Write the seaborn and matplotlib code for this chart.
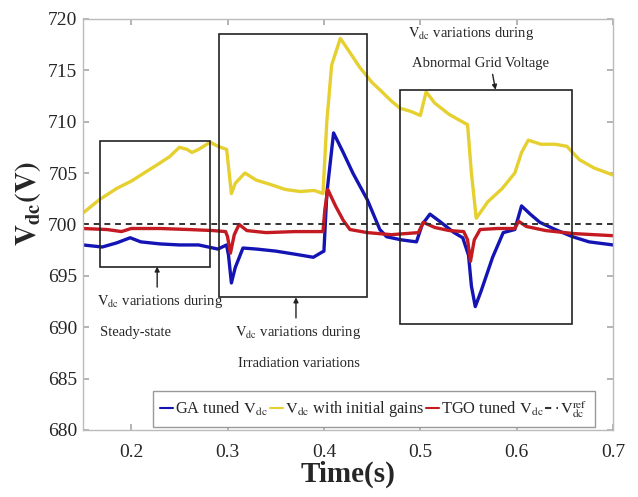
import matplotlib
matplotlib.use('Agg')
import matplotlib.pyplot as plt
import matplotlib.patches as mpatches
import seaborn as sns

# GA tuned Vdc (blue)
t_ga = [0.150, 0.170, 0.185, 0.199, 0.210, 0.230, 0.250, 0.270, 0.290, 0.299,
        0.301, 0.304, 0.308, 0.316, 0.330, 0.350, 0.370, 0.389, 0.398, 0.400,
        0.403, 0.410, 0.420, 0.430, 0.445, 0.458, 0.465, 0.480, 0.496, 0.502,
        0.510, 0.520, 0.535, 0.544, 0.550, 0.553, 0.557, 0.563, 0.575, 0.586,
        0.598, 0.605, 0.614, 0.624, 0.640, 0.658, 0.675, 0.700]
v_ga = [698.0, 697.8, 698.2, 698.7, 698.3, 698.1, 698.0, 698.0, 697.6, 698.0,
        697.0, 694.3, 695.8, 697.7, 697.6, 697.4, 697.1, 696.8, 697.3, 697.4,
        703.0, 708.9, 707.0, 705.0, 702.4, 699.5, 698.8, 698.5, 698.3, 700.0,
        701.0, 700.3, 699.2, 698.7, 697.0, 694.0, 692.0, 693.5, 696.8, 699.2,
        699.5, 701.8, 701.0, 700.2, 699.5, 698.8, 698.3, 698.0]

# Vdc with initial gains (yellow)
t_init = [0.150, 0.167, 0.185, 0.200, 0.210, 0.227, 0.240, 0.250, 0.258, 0.263,
          0.270, 0.282, 0.290, 0.299, 0.300, 0.304, 0.308, 0.318, 0.330, 0.344,
          0.360, 0.375, 0.390, 0.399, 0.403, 0.408, 0.417, 0.425, 0.437, 0.450,
          0.458, 0.470, 0.479, 0.490, 0.500, 0.506, 0.515, 0.530, 0.549, 0.553,
          0.558, 0.570, 0.585, 0.598, 0.605, 0.612, 0.625, 0.640, 0.652, 0.665,
          0.680, 0.700]
v_init = [701.1, 702.4, 703.5, 704.2, 704.8, 705.8, 706.6, 707.5, 707.3, 707.0,
          707.3, 708.0, 707.6, 707.3, 706.5, 703.0, 704.0, 705.0, 704.3, 703.9,
          703.4, 703.2, 703.3, 703.0, 710.0, 715.5, 718.1, 717.0, 715.3, 713.8,
          713.1, 712.0, 711.3, 711.0, 710.6, 712.9, 711.8, 710.7, 709.7, 705.0,
          700.6, 702.2, 703.5, 705.0, 707.0, 708.2, 707.8, 707.8, 707.6, 706.3,
          705.5, 704.8]

# TGO tuned Vdc (red)
t_tgo = [0.150, 0.175, 0.190, 0.200, 0.230, 0.260, 0.285, 0.298, 0.300, 0.303,
         0.307, 0.312, 0.320, 0.340, 0.370, 0.399, 0.401, 0.404, 0.412, 0.420,
         0.427, 0.445, 0.470, 0.498, 0.503, 0.515, 0.530, 0.545, 0.549, 0.552,
         0.556, 0.562, 0.580, 0.598, 0.602, 0.610, 0.630, 0.660, 0.700]
v_tgo = [699.6, 699.5, 699.3, 699.6, 699.6, 699.5, 699.4, 699.3, 698.8, 697.2,
         699.0, 700.0, 699.4, 699.2, 699.3, 699.3, 701.5, 703.4, 701.8, 700.4,
         699.5, 699.2, 699.0, 699.2, 700.2, 699.7, 699.4, 699.3, 698.5, 696.4,
         698.5, 699.5, 699.6, 699.6, 700.3, 699.8, 699.4, 699.1, 698.9]

v_ref = 700
x_ticks = [0.2, 0.3, 0.4, 0.5, 0.6, 0.7]
y_ticks = [680, 685, 690, 695, 700, 705, 710, 715, 720]

# highlighted regions: (t0, t1, v0, v1)
boxes = [(0.1676, 0.282, 695.9, 708.1),
         (0.291, 0.445, 692.9, 718.5),
         (0.479, 0.657, 690.3, 713.1)]

sns.set_theme(style='white')
plt.rcParams['font.family'] = ['Liberation Serif', 'DejaVu Serif']
plt.rcParams['mathtext.fontset'] = 'stix'

fig = plt.figure(figsize=(6.38, 4.97), dpi=100)
ax = fig.add_axes([0.130, 0.135, 0.831, 0.827])

sns.lineplot(x=t_ga, y=v_ga, color='#1414b4', lw=2.4, ax=ax,
             label=r'GA tuned $\mathrm{V_{dc}}$')
sns.lineplot(x=t_init, y=v_init, color='#e6d030', lw=2.4, ax=ax,
             label=r'$\mathrm{V_{dc}}$ with initial gains')
sns.lineplot(x=t_tgo, y=v_tgo, color='#c41a22', lw=2.4, ax=ax,
             label=r'TGO tuned $\mathrm{V_{dc}}$')
ax.axhline(v_ref, color='#333333', ls=(0, (3, 2.5)), lw=1.4,
           label=r'$\mathrm{V_{dc}^{ref}}$')

for t0, t1, v0, v1 in boxes:
    ax.add_patch(mpatches.Rectangle((t0, v0), t1 - t0, v1 - v0, fill=False,
                                    ec='#222222', lw=1.2, zorder=5))

fs = 10.5
vdc = r'$\mathrm{V_{dc}}$'
ax.text(0.1645, 692.5, vdc + ' variations during', fontsize=fs, ha='left', va='center')
ax.text(0.1676, 689.5, 'Steady-state', fontsize=fs, ha='left', va='center')
ax.text(0.3077, 689.5, vdc + ' variations during', fontsize=fs, ha='left', va='center')
ax.text(0.311, 686.5, 'Irradiation variations', fontsize=fs, ha='left', va='center')
ax.text(0.4877, 718.6, vdc + ' variations during', fontsize=fs, ha='left', va='center')
ax.text(0.4918, 715.7, 'Abnormal Grid Voltage', fontsize=fs, ha='left', va='center')

arrow = dict(arrowstyle='-|>', color='#222222', lw=1.0, mutation_scale=7,
             shrinkA=0, shrinkB=0)
ax.annotate('', xy=(0.227, 695.9), xytext=(0.227, 693.9), arrowprops=arrow)
ax.annotate('', xy=(0.371, 692.9), xytext=(0.371, 690.9), arrowprops=arrow)
ax.annotate('', xy=(0.578, 713.1), xytext=(0.575, 714.6), arrowprops=arrow)

ax.set_xlim(0.15, 0.7)
ax.set_ylim(680, 720)
ax.set_xticks(x_ticks)
ax.set_yticks(y_ticks)
ax.set_xticklabels([f'{x:.1f}' for x in x_ticks])
ax.tick_params(direction='in', length=4, color='#aaaaaa', labelsize=14,
               top=True, right=True, bottom=True, left=True)
ax.tick_params(axis='x', pad=10)
ax.tick_params(axis='y', pad=4)
for s in ax.spines.values():
    s.set_color('#bbbbbb')
    s.set_linewidth(1.0)

ax.set_xlabel('Time(s)', fontsize=21, fontweight='bold', labelpad=0)
ax.set_ylabel(r'$\mathbf{V_{dc}(V)}$', fontsize=21)
ax.yaxis.set_label_coords(-0.075, 0.55)

leg = ax.legend(loc='lower left', bbox_to_anchor=(0.132, 0.007), ncol=4,
                fontsize=11.8, handlelength=0.8, handletextpad=0.12,
                columnspacing=0.1, borderpad=0.45, borderaxespad=0.0,
                fancybox=False, framealpha=1.0, edgecolor='#999999')
for h in leg.get_lines():
    h.set_linewidth(1.5)

fig.savefig('out.png', dpi=100)
